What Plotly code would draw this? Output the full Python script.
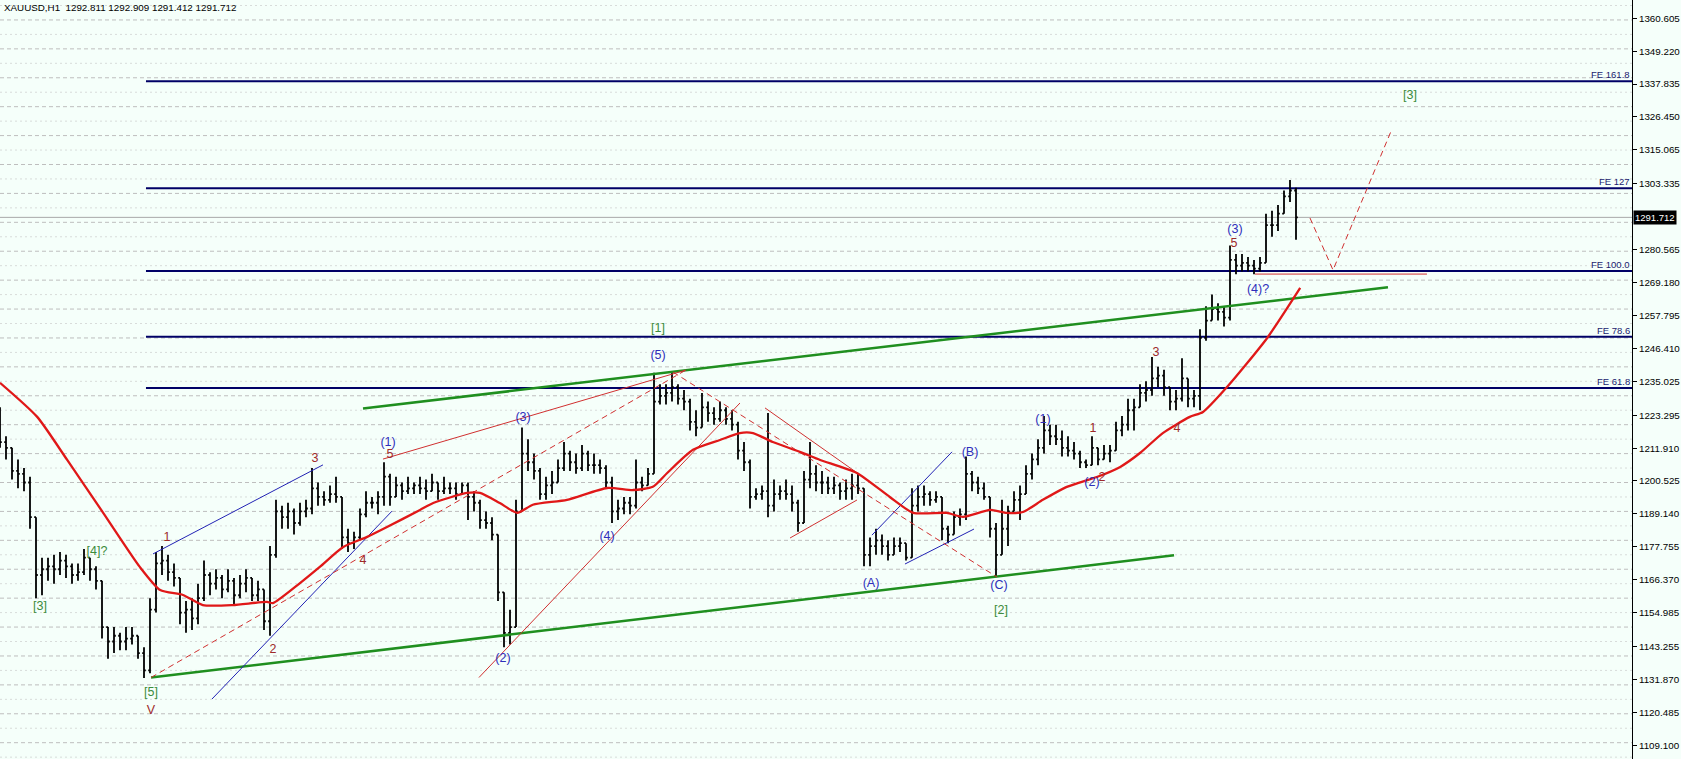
import plotly.graph_objects as go

# ---------------- data ----------------
first_open = 1220.0
highs = [1226,1216,1212,1208,1205,1202,1188,1174,1174,1175,1176,1175,1172,1172,1177,1174,1171,1166,1150,1150,
         1148,1150,1150,1147,1143,1160,1176,1178,1175,1172,1167,1159,1160,1165,1173,1169,1170,1168,1170,1167,
         1168,1170,1167,1166,1163,1178,1194,1192,1193,1191,1193,1194,1205,1200,1197,1199,1202,1195,1184,1183,
         1191,1197,1195,1197,1207,1203,1202,1200,1202,1200,1202,1201,1203,1200,1202,1200,1200,1200,1200,1197,
         1194,1190,1188,1182,1162,1156,1194,1219,1215,1210,1205,1202,1204,1208,1214,1211,1210,1213,1211,1210,
         1208,1206,1202,1194,1195,1195,1208,1202,1205,1238,1234,1234,1238,1234,1232,1229,1225,1231,1228,1226,
         1228,1226,1225,1221,1214,1208,1198,1199,1224,1201,1199,1201,1199,1194,1204,1214,1206,1204,1202,1202,
         1200,1201,1203,1203,1198,1181,1184,1182,1180,1181,1181,1179,1198,1199,1199,1197,1197,1195,1185,1190,
         1191,1209,1204,1202,1200,1195,1186,1194,1192,1197,1199,1206,1210,1215,1223,1220,1220,1218,1216,1214,
         1211,1208,1216,1212,1213,1213,1221,1223,1229,1229,1234,1235,1243.4,1240,1239,1233,1232,1243,1236,1232,
         1253,1261,1265,1262,1261,1282,1279,1279,1278,1277,1278,1293,1294,1296,1301,1304.6,1302]
lows = [1212,1208,1201,1198,1197,1184,1160,1161,1166,1165,1168,1167,1165,1166,1168,1166,1163,1146,1139,1141,
        1142,1142,1144,1139,1132.4,1134,1155,1168,1166,1164,1151,1148,1149,1151,1159,1161,1163,1160,1162,1158,
        1160,1162,1159,1159,1149,1147,1174,1184,1184,1182,1185,1188,1189,1192,1192,1193,1193,1177,1176,1177,
        1180,1188,1191,1189,1192,1192,1195,1194,1196,1196,1196,1194,1197,1194,1196,1196,1194,1196,1187,1190,
        1184,1184,1180,1159,1143,1144,1150,1190,1204,1201,1194,1194,1196,1200,1204,1204,1203,1204,1204,1203,
        1203,1198,1186,1187,1189,1189,1191,1197,1199,1203,1227,1227,1228,1227,1225,1218,1216,1219,1221,1220,
        1221,1220,1218,1208,1204,1191,1194,1194,1188,1190,1194,1194,1190,1183,1186,1198,1197,1196,1196,1196,
        1194,1194,1194,1196,1171,1171,1175,1175,1173,1175,1176,1173,1174,1190,1192,1192,1193,1180,1179,1182,
        1185,1187,1197,1196,1194,1181,1167.3,1175,1178,1190,1187,1196,1201,1206,1210,1213,1213,1209,1209,1208,
        1205,1205,1206,1206,1208,1207,1211,1216,1218,1218,1226,1228,1230,1233,1230,1225,1225,1228,1226,1226,
        1225,1249,1256,1256,1254,1256,1272,1273,1273,1272,1273,1276,1285,1287,1293,1297,1284]
closes = [1214,1212,1204,1203,1200,1188,1168,1170,1171,1170,1173,1171,1168,1169,1174,1170,1166,1150,1145,1147,
          1145,1146,1147,1141,1135,1156,1172,1173,1169,1167,1155,1156,1153,1160,1168,1165,1167,1163,1166,1161,
          1165,1167,1161,1163,1152,1175,1190,1188,1190,1186,1190,1191,1198,1195,1194,1196,1195,1181,1179,1181,
          1189,1193,1193,1195,1202,1195,1199,1197,1198,1199,1198,1197,1200,1197,1198,1198,1196,1199,1195,1193,
          1187,1186,1182,1162,1148,1150,1190,1210,1207,1204,1196,1199,1200,1205,1210,1207,1205,1210,1206,1206,
          1205,1200,1190,1191,1193,1192,1200,1199,1203,1228,1230,1231,1233,1229,1228,1221,1219,1226,1224,1222,
          1225,1222,1220,1211,1207,1195,1196,1197,1192,1196,1197,1196,1193,1186,1201,1203,1200,1200,1198,1199,
          1197,1198,1199,1198,1175,1178,1180,1178,1175,1178,1179,1174,1192,1195,1196,1194,1195,1184,1182,1188,
          1189,1203,1200,1198,1195,1184,1175,1184,1190,1194,1196,1203,1208,1212,1218,1216,1215,1212,1211,1210,
          1207,1206,1212,1208,1210,1211,1218,1220,1225,1226,1231,1232,1236,1237,1233,1228,1229,1236,1229,1230,
          1250,1256,1260,1259,1257,1277,1275,1276,1275,1274,1276,1289,1289,1293,1299,1301,1291.712]

# moving average: bar index, price
ma_x = [0,6.2,11.2,17.2,23.3,26.7,30.5,33.8,38.8,44.5,45.5,50,53.3,57.2,61.2,64.5,70,72.2,77.8,80,83.3,86.2,
        88.8,94.5,101.2,105.5,108.8,111.2,115.5,120,123.3,125.5,128.8,133.3,136.7,142.8,148.3,152.2,157.8,160.5,
        165,167.8,170.5,173.8,177.8,182.8,186.7,190,193.8,198.3,200.5,204.5,211.2,216.7]
ma_y = [1234.5,1222.7,1207.8,1189.5,1170.8,1162.8,1161.1,1157.6,1157.6,1158.7,1158.3,1165.2,1170.8,1177.7,1181.2,
        1184.6,1190.5,1192.9,1196.4,1196.4,1192.9,1189.5,1192.3,1194.0,1198.1,1197.4,1198.5,1203.3,1211.3,1214.7,
        1217.1,1217.1,1214.0,1210.6,1207.8,1203.3,1195.0,1189.5,1189.5,1188.1,1190.5,1189.5,1189.8,1194.0,1198.5,
        1201.9,1205.4,1210.2,1217.1,1222.7,1224.4,1233.0,1250.0,1267.3]

# price-axis labels
tick_text = ["1360.605","1349.220","1337.835","1326.450","1315.065","1303.335","1280.565","1269.180","1257.795",
             "1246.410","1235.025","1223.295","1211.910","1200.525","1189.140","1177.755","1166.370","1154.985",
             "1143.255","1131.870","1120.485","1109.100"]
last_price = 1291.712
title_text = "XAUUSD,H1\u00a0\u00a01292.811 1292.909 1291.412 1291.712"

# Fibonacci expansion levels
fe_names = ["FE 61.8", "FE 78.6", "FE 100.0", "FE 127", "FE 161.8"]
fe_prices = [1232.7, 1250.45, 1273.15, 1301.8, 1338.8]
fe_start = 24.33

# trend lines: [x0, x1], [y0, y1]
green_x = [[25.17, 195.67], [60.5, 231.33]]
green_y = [[1132.55, 1174.82], [1225.6, 1267.5]]
blue_x = [[35.33, 65.33], [25.5, 53.83], [145.33, 158.67], [150.83, 162.33]]
blue_y = [[1125.1, 1190.1], [1175.3, 1206.1], [1181.8, 1210.6], [1171.8, 1183.9]]
red_x = [[63.83, 114.33], [79.83, 123.33], [127.5, 143.83], [131.67, 142.83], [209.17, 237.83]]
red_y = [[1208.1, 1238.9], [1132.55, 1227.5], [1225.8, 1201.9], [1180.8, 1193.95], [1272.1, 1272.1]]
red_dash_x = [[25.17, 114.33], [112.17, 166.17], [218.33, 222.17, 232.0]]
red_dash_y = [[1132.55, 1238.9], [1238.2, 1167.3], [1291.5, 1273.5, 1322.3]]

# wave labels
blue_lbl = ["(1)", "(2)", "(3)", "(4)", "(5)", "(A)", "(B)", "(C)", "(1)", "(2)", "(3)", "(4)?"]
blue_lx = [64.67, 83.83, 87.17, 101.17, 109.67, 145.17, 161.67, 166.5, 173.83, 182.0, 205.83, 209.67]
blue_ly = [1213.7, 1138.95, 1222.3, 1181.2, 1243.8, 1164.9, 1210.2, 1164.2, 1221.6, 1199.8, 1287.3, 1266.6]
red_lbl = ["1", "2", "3", "4", "5", "1", "2", "3", "4", "5", "V"]
red_lx = [27.83, 45.5, 52.5, 60.5, 65.0, 182.17, 183.67, 192.67, 196.17, 205.67, 25.17]
red_ly = [1180.8, 1142.1, 1208.1, 1172.9, 1209.5, 1218.5, 1201.6, 1244.8, 1218.5, 1282.5, 1121.0]
green_lbl = ["[3]", "[4]?", "[5]", "[1]", "[2]", "[3]"]
green_lx = [6.67, 16.17, 25.17, 109.67, 166.83, 235.0]
green_ly = [1156.9, 1176.0, 1127.2, 1253.1, 1155.55, 1333.7]

# ---------------- styling ----------------
BG = "#F5FFFA"
NAVY = "#000066"
FONT = "Liberation Sans"
X_MAX = 272
Y_RANGE = [1104.36, 1366.9]

opens = [first_open] + closes[:-1]
idx = list(range(len(closes)))

fig = go.Figure()

fig.add_trace(go.Ohlc(
    x=idx, open=opens, high=highs, low=lows, close=closes,
    increasing=dict(line=dict(color="black", width=1.8)),
    decreasing=dict(line=dict(color="black", width=1.8)),
    tickwidth=0.3, hoverinfo="skip", showlegend=False))

for xs, ys in zip(green_x, green_y):
    fig.add_trace(go.Scatter(x=xs, y=ys, mode="lines", line=dict(color="#1F8F1F", width=2.5),
                             hoverinfo="skip", showlegend=False))
for xs, ys in zip(blue_x, blue_y):
    fig.add_trace(go.Scatter(x=xs, y=ys, mode="lines", line=dict(color="#2222B4", width=1),
                             hoverinfo="skip", showlegend=False))
for xs, ys in zip(red_x, red_y):
    fig.add_trace(go.Scatter(x=xs, y=ys, mode="lines", line=dict(color="#D03030", width=1),
                             hoverinfo="skip", showlegend=False))
for xs, ys in zip(red_dash_x, red_dash_y):
    fig.add_trace(go.Scatter(x=xs, y=ys, mode="lines", line=dict(color="#D03030", width=1, dash="6px,4px"),
                             hoverinfo="skip", showlegend=False))

fig.add_trace(go.Scatter(x=ma_x, y=ma_y, mode="lines", line=dict(color="#E01818", width=2.3, shape="spline", smoothing=0.6),
                         hoverinfo="skip", showlegend=False))

for txt, xs, ys, col in [(blue_lbl, blue_lx, blue_ly, "#2E2EBA"),
                         (red_lbl, red_lx, red_ly, "#9E2A2A"),
                         (green_lbl, green_lx, green_ly, "#3C8C3C")]:
    fig.add_trace(go.Scatter(x=xs, y=ys, mode="text", text=txt, textposition="middle center",
                             textfont=dict(family=FONT, size=12.5, color=col),
                             hoverinfo="skip", showlegend=False))

shapes = []
# horizontal dashed grid every 5 price units
p = 1105
while p <= 1366:
    strong = (p % 10 == 0)
    shapes.append(dict(type="line", xref="paper", x0=0, x1=1, yref="y", y0=p, y1=p, layer="below",
                       line=dict(color="#BEBEBE" if strong else "#D8DCDA", width=1,
                                 dash="4px,3px" if strong else "2px,3px")))
    p += 5
# bid line
shapes.append(dict(type="line", xref="paper", x0=0, x1=1, yref="y", y0=last_price, y1=last_price,
                   layer="below", line=dict(color="#A8A8A8", width=1)))
# FE levels
for lvl in fe_prices:
    shapes.append(dict(type="line", xref="x", x0=fe_start, x1=X_MAX, yref="y", y0=lvl, y1=lvl,
                       layer="below", line=dict(color=NAVY, width=2)))

annotations = []
for name, lvl in zip(fe_names, fe_prices):
    annotations.append(dict(x=X_MAX, y=lvl, xref="x", yref="y", text=name, showarrow=False,
                            xanchor="right", yanchor="bottom", xshift=-1, borderpad=0,
                            font=dict(family=FONT, size=9.5, color="#1A1A6E")))
annotations.append(dict(x=1, y=last_price, xref="paper", yref="y", text="1291.712",
                        showarrow=False, xanchor="left", yanchor="middle", xshift=1, bgcolor="black",
                        borderpad=1, font=dict(family=FONT, size=9.5, color="white")))
annotations.append(dict(x=0, y=1, xref="paper", yref="paper", text=title_text, showarrow=False,
                        xanchor="left", yanchor="top", xshift=2, yshift=0,
                        font=dict(family=FONT, size=9.8, color="black")))

tick_vals = [float(t) for t in tick_text]

fig.update_layout(
    width=1681, height=759,
    margin=dict(l=0, r=49, t=0, b=0),
    paper_bgcolor=BG, plot_bgcolor=BG,
    shapes=shapes, annotations=annotations,
    showlegend=False,
    xaxis=dict(range=[0, X_MAX], visible=False, rangeslider=dict(visible=False)),
    yaxis=dict(side="right", range=Y_RANGE, tickmode="array", tickvals=tick_vals, ticktext=tick_text,
               ticks="outside", ticklen=4, tickcolor="black", showline=True, linecolor="black",
               linewidth=1, showgrid=False, zeroline=False,
               tickfont=dict(family=FONT, size=9.8, color="black")),
)

fig.write_html("out.html", config={"displayModeBar": False, "staticPlot": True},
               post_script="document.body.style.margin='0';")
